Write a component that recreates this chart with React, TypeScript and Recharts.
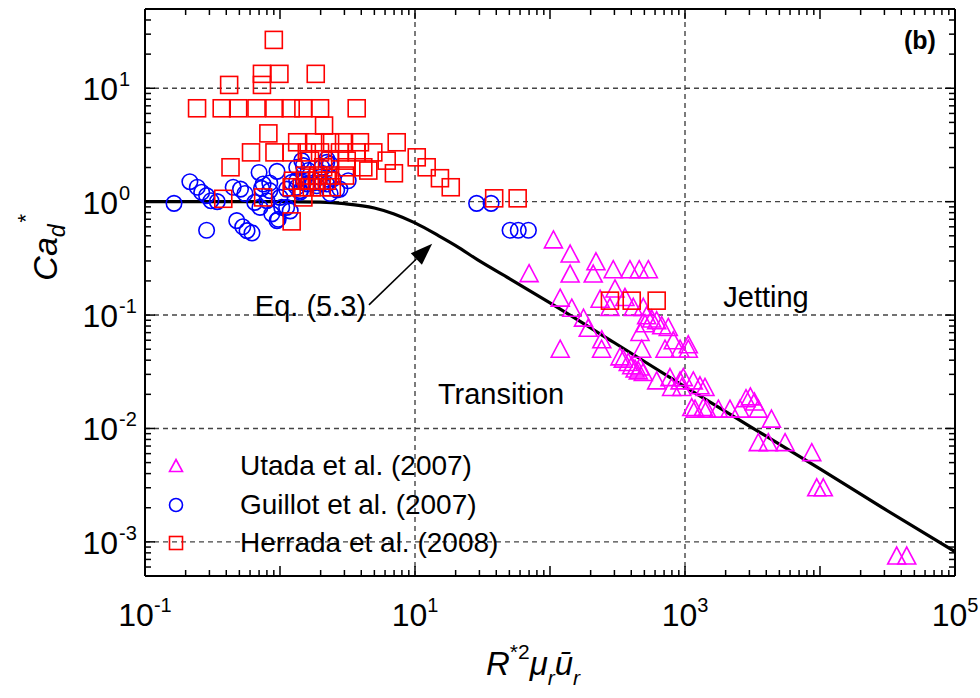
import React from "react";
import { ComposedChart, Scatter, Line, XAxis, YAxis, ReferenceLine, ReferenceDot, Legend } from "recharts";

const FONT = "'Liberation Sans', Arial, Helvetica, sans-serif";

// Utada et al. (2007) - triangles
const utadaX = [106, 141, 70, 141, 219, 209, 294, 391, 458, 535, 119, 145, 119, 177, 192, 242, 241, 303, 235, 278, 359, 414, 491, 520, 617, 672, 752, 464, 478, 711, 819, 919, 1058, 349, 380, 403, 427, 451, 491, 330, 464, 617, 774, 919, 1152, 796, 946, 1406, 972, 1122, 1368, 1186, 1448, 1767, 2154, 2554, 2830, 3050, 3270, 3492, 4370, 3492, 4140, 5510, 8690, 9460, 10580, 37000, 43900, 506, 567, 1058, 1291];
const utadaY = [0.46, 0.345, 0.232, 0.23, 0.295, 0.23, 0.251, 0.251, 0.251, 0.251, 0.141, 0.115, 0.05, 0.094, 0.0764, 0.0605, 0.05, 0.17, 0.138, 0.117, 0.143, 0.117, 0.117, 0.0986, 0.089, 0.0805, 0.0778, 0.0702, 0.05, 0.05, 0.0593, 0.05, 0.05, 0.0409, 0.0382, 0.0357, 0.0334, 0.0322, 0.0312, 0.0428, 0.0348, 0.0263, 0.0281, 0.0263, 0.0263, 0.023, 0.023, 0.023, 0.0281, 0.0153, 0.0153, 0.0148, 0.0148, 0.0148, 0.0148, 0.0148, 0.0183, 0.019, 0.0171, 0.0148, 0.0121, 0.0075, 0.0075, 0.0075, 0.00612, 0.003, 0.003, 0.00075, 0.00075, 0.0838, 0.0922, 0.0547, 0.0238];

// Guillot et al. (2007) - circles
const guillotX = [0.164, 0.215, 0.244, 0.263, 0.286, 0.308, 0.343, 0.286, 0.478, 0.53, 0.57, 0.62, 0.7, 0.51, 0.55, 0.95, 0.73, 0.84, 0.65, 0.71, 0.87, 0.95, 1.0, 1.12, 1.19, 1.33, 1.49, 1.62, 2.22, 2.04, 0.45, 0.8, 0.75, 0.84, 1.03, 0.97, 1.45, 2.22, 2.35, 3.2, 1.33, 1.58, 1.76, 1.98, 2.22, 2.48, 1.41, 2.63, 2.78, 2.35, 1.12, 1.41, 1.22, 1.33, 1.49, 1.87, 2.04, 28.6, 36.6, 50.6, 58.2, 69.2];
const guillotY = [0.966, 1.5, 1.34, 1.21, 1.13, 1.02, 1.0, 0.56, 0.68, 0.6, 0.555, 0.53, 1.81, 1.29, 1.18, 1.85, 1.31, 1.46, 0.986, 0.89, 0.78, 0.68, 1.09, 0.89, 0.83, 2.01, 2.08, 1.88, 2.22, 2.01, 1.34, 1.02, 1.43, 1.25, 0.89, 0.7, 2.3, 2.38, 2.15, 1.53, 1.53, 1.43, 1.46, 1.64, 1.43, 1.59, 1.25, 1.27, 1.29, 1.18, 1.29, 1.21, 1.48, 1.34, 1.48, 1.38, 1.45, 0.966, 0.966, 0.56, 0.56, 0.56];

// Herrada et al. (2008) - squares
const herradaX = [0.9, 0.735, 0.99, 1.84, 0.42, 0.735, 0.243, 0.37, 0.49, 0.67, 0.91, 1.2, 1.49, 1.98, 3.7, 2.12, 0.82, 1.34, 1.82, 2.35, 2.98, 3.91, 7.32, 0.61, 0.91, 1.22, 1.58, 1.98, 2.78, 3.7, 4.91, 0.43, 6.17, 6.98, 10.3, 12.2, 15.3, 18.4, 38.6, 57.6, 1.67, 2.35, 3.12, 2.09, 3.12, 4.14, 4.51, 1.53, 1.92, 2.35, 3.03, 1.25, 1.58, 1.87, 2.22, 1.22, 1.45, 1.72, 2.04, 2.42, 0.75, 1.49, 0.38, 1.22, 278, 403, 617];
const herradaY = [26.7, 13.4, 13.4, 13.4, 10.7, 10.7, 6.66, 6.66, 6.66, 6.66, 6.66, 6.66, 6.66, 6.66, 6.66, 4.69, 4.0, 3.34, 3.34, 3.34, 3.34, 3.34, 3.34, 2.72, 2.72, 2.72, 2.72, 2.72, 2.72, 2.72, 2.72, 2.01, 2.3, 1.78, 2.46, 2.01, 1.61, 1.34, 1.07, 1.07, 2.3, 2.3, 2.3, 2.01, 2.01, 2.01, 1.88, 1.7, 1.7, 1.7, 1.7, 1.53, 1.53, 1.53, 1.53, 1.34, 1.34, 1.34, 1.34, 1.34, 1.09, 1.09, 1.06, 0.67, 0.134, 0.134, 0.134];

// Eq. (5.3) curve
const curveX = [0.1, 0.3, 1, 2, 3, 5, 7, 10, 15, 20, 30, 50, 100, 300, 1000, 3000, 10000, 30000, 100000];
const curveY = [1.0, 1.0, 1.0, 0.99, 0.96, 0.88, 0.78, 0.65, 0.5, 0.41, 0.3, 0.21, 0.128, 0.057, 0.0233, 0.0105, 0.0044, 0.00195, 0.00082];

const xMajor = [0.1, 1, 10, 100, 1000, 10000, 100000];
const xLabelExp = [-1, 1, 3, 5];
const xGrid = [10, 1000];
const yMajor = [0.001, 0.01, 0.1, 1, 10];
const yLabelExp = [-3, -2, -1, 0, 1];
const yDomain = [0.0005, 50];
const xDomain = [0.1, 100000];

const legendNames = ["Utada et al. (2007)", "Guillot et al. (2007)", "Herrada et al. (2008)"];

const minorTicks = (majors: number[], lo: number, hi: number) => {
  const out: number[] = [];
  const decades = [majors[0] / 10, ...majors];
  decades.forEach((d) => {
    for (let m = 1; m <= 9; m++) {
      const v = Number((m * d).toPrecision(3));
      if (v >= lo * 0.999 && v <= hi * 1.001) out.push(v);
    }
  });
  return Array.from(new Set(out)).sort((a, b) => a - b);
};

const xTicks = minorTicks(xMajor, xDomain[0], xDomain[1]);
const yTicks = minorTicks(yMajor, yDomain[0], yDomain[1]);

const zip = (xs: number[], ys: number[]) => xs.map((x, i) => ({ x, y: ys[i] }));
const utada = zip(utadaX, utadaY);
const guillot = zip(guillotX, guillotY);
const herrada = zip(herradaX, herradaY);
const curve = zip(curveX, curveY);

const expOf = (v: number) => Math.round(Math.log10(v));
const isMajor = (v: number) => Math.abs(Math.log10(v) - expOf(v)) < 1e-6;

const MAGENTA = "#ff00ff";
const BLUE = "#0000ff";
const RED = "#ff0000";
const GRID = "#444444";
const TICK_COLOR = "#000000";

const Triangle = ({ cx, cy, s = 18, color = MAGENTA }: any) => (
  <polygon
    points={`${cx},${cy - s / 2} ${cx + s / 2},${cy + s / 2 - 1} ${cx - s / 2},${cy + s / 2 - 1}`}
    fill="none"
    stroke={color}
    strokeWidth={1.6}
  />
);
const Circle = ({ cx, cy, s = 15.5, color = BLUE }: any) => (
  <circle cx={cx} cy={cy} r={s / 2} fill="none" stroke={color} strokeWidth={1.6} />
);
const Square = ({ cx, cy, s = 17, color = RED }: any) => (
  <rect x={cx - s / 2} y={cy - s / 2} width={s} height={s} fill="none" stroke={color} strokeWidth={1.6} />
);

const BottomLabel = ({ x, y, payload }: any) => {
  const v = payload.value;
  const e = expOf(v);
  if (!isMajor(v) || !xLabelExp.includes(e)) return <g />;
  return (
    <text x={x} y={y + 50} textAnchor="middle" fontSize={32} fontFamily={FONT} fill="#000">
      10
      <tspan dy={-14} fontSize={20}>{e}</tspan>
    </text>
  );
};

const LeftLabel = ({ x, y, payload }: any) => {
  const v = payload.value;
  const e = expOf(v);
  if (!isMajor(v) || !yLabelExp.includes(e)) return <g />;
  return (
    <g fontFamily={FONT} fill="#000">
      <text x={x - 27} y={y + 12} textAnchor="end" fontSize={32}>10</text>
      <text x={x - 26} y={y - 2} textAnchor="start" fontSize={20}>{e}</text>
    </g>
  );
};

// inward tick marks on both ends of each reference line
const xMarks = (len: number) => (props: any) => {
  const { x1, y1, y2 } = props;
  const top = Math.min(y1, y2);
  const bot = Math.max(y1, y2);
  return (
    <g>
      <line x1={x1} x2={x1} y1={top} y2={top + len} stroke={TICK_COLOR} strokeWidth={1.5} />
      <line x1={x1} x2={x1} y1={bot} y2={bot - len} stroke={TICK_COLOR} strokeWidth={1.5} />
    </g>
  );
};

const yMarks = (len: number) => (props: any) => {
  const { x1, x2, y1 } = props;
  const left = Math.min(x1, x2);
  const right = Math.max(x1, x2);
  return (
    <g>
      <line x1={left} x2={left + len} y1={y1} y2={y1} stroke={TICK_COLOR} strokeWidth={1.5} />
      <line x1={right} x2={right - len} y1={y1} y2={y1} stroke={TICK_COLOR} strokeWidth={1.5} />
    </g>
  );
};

const YTitle = ({ viewBox }: any) => {
  const cx = viewBox.x + 57;
  const cy = viewBox.y + viewBox.height / 2 - 40;
  return (
    <g transform={`translate(${cx},${cy}) rotate(-90)`} fontFamily={FONT} fill="#000">
      <text x={0} y={0} textAnchor="middle" fontSize={34} fontStyle="italic">
        Ca<tspan fontSize={23} dy={8}>d</tspan>
      </text>
      <text x={30} y={-24} fontSize={22}>*</text>
    </g>
  );
};

const XTitle = ({ viewBox }: any) => {
  const cx = viewBox.x + viewBox.width / 2 - 17;
  const cy = viewBox.y + 99;
  return (
    <text x={cx} y={cy} textAnchor="middle" fontFamily={FONT} fontSize={33} fontStyle="italic" fill="#000">
      R<tspan fontSize={21} dy={-16} fontStyle="normal">*2</tspan>
      <tspan dy={16}>μ</tspan>
      <tspan fontSize={21} dy={10}>r</tspan>
      <tspan dy={-10}>ū</tspan>
      <tspan fontSize={21} dy={10}>r</tspan>
    </text>
  );
};

const Arrow = ({ x1, y1, x2, y2 }: any) => {
  const dx = x2 - x1;
  const dy = y2 - y1;
  const len = Math.sqrt(dx * dx + dy * dy);
  const ux = dx / len;
  const uy = dy / len;
  const hl = 22;
  const hw = 8;
  const bx = x2 - ux * hl;
  const by = y2 - uy * hl;
  return (
    <g>
      <line x1={x1} y1={y1} x2={bx} y2={by} stroke="#000" strokeWidth={1.6} />
      <polygon
        points={`${x2},${y2} ${bx - uy * hw},${by + ux * hw} ${bx + uy * hw},${by - ux * hw}`}
        fill="#000"
      />
    </g>
  );
};

const note = (text: string, anchor: string, size = 29, weight = "normal") => ({ cx, cy }: any) => (
  <text x={cx} y={cy} textAnchor={anchor} dominantBaseline="central" fontFamily={FONT} fontSize={size} fontWeight={weight} fill="#000">
    {text}
  </text>
);

const LegendContent = () => {
  const shapes = [Triangle, Circle, Square];
  return (
    <div style={{ fontFamily: FONT, fontSize: 28, color: "#000" }}>
      {legendNames.map((name, i) => {
        const Shape = shapes[i];
        return (
          <div key={name} style={{ display: "flex", alignItems: "center", height: 38.5 }}>
            <svg width={24} height={24} style={{ display: "block" }}>
              <Shape cx={12} cy={12} s={13} />
            </svg>
            <span style={{ marginLeft: 52, lineHeight: "38.5px", whiteSpace: "nowrap" }}>{name}</span>
          </div>
        );
      })}
    </div>
  );
};

const axisLineStyle = { stroke: "#000", strokeWidth: 2 };

export default function App() {
  return (
    <div style={{ position: "fixed", left: 0, top: 0, width: 980, height: 698, background: "#fff" }}>
      <ComposedChart width={980} height={698} margin={{ top: 9, right: 25, bottom: 0, left: 0 }}>
        <XAxis
          type="number"
          dataKey="x"
          scale="log"
          domain={xDomain}
          allowDataOverflow
          ticks={xMajor}
          interval={0}
          tickSize={0}
          tickMargin={0}
          tickLine={false}
          tick={<BottomLabel />}
          axisLine={axisLineStyle}
          height={122}
          label={{ content: <XTitle /> }}
        />
        <YAxis
          type="number"
          dataKey="y"
          scale="log"
          domain={yDomain}
          allowDataOverflow
          ticks={yMajor}
          interval={0}
          tickSize={0}
          tickMargin={0}
          tickLine={false}
          tick={<LeftLabel />}
          axisLine={axisLineStyle}
          width={145}
          label={{ content: <YTitle /> }}
        />
        {yMajor.map((v) => (
          <ReferenceLine key={`gy${v}`} y={v} stroke={GRID} strokeWidth={1.4} strokeDasharray="5 4" />
        ))}
        {xGrid.map((v) => (
          <ReferenceLine key={`gx${v}`} x={v} stroke={GRID} strokeWidth={1.4} strokeDasharray="5 4" />
        ))}
        {xTicks.map((v) => (
          <ReferenceLine key={`tx${v}`} x={v} stroke="#000" ifOverflow="visible" shape={xMarks(isMajor(v) ? 10 : 6)} />
        ))}
        {yTicks.map((v) => (
          <ReferenceLine key={`ty${v}`} y={v} stroke="#000" ifOverflow="visible" shape={yMarks(isMajor(v) ? 10 : 6)} />
        ))}
        <ReferenceLine y={yDomain[1]} stroke="#000" strokeWidth={2} ifOverflow="visible" />
        <ReferenceLine x={xDomain[1]} stroke="#000" strokeWidth={2} ifOverflow="visible" />
        <Line
          data={curve}
          dataKey="y"
          type="monotone"
          stroke="#000"
          strokeWidth={3.2}
          dot={false}
          legendType="none"
          isAnimationActive={false}
        />
        <Scatter name={legendNames[0]} data={utada} dataKey="y" shape={<Triangle />} isAnimationActive={false} />
        <Scatter name={legendNames[1]} data={guillot} dataKey="y" shape={<Circle />} isAnimationActive={false} />
        <Scatter name={legendNames[2]} data={herrada} dataKey="y" shape={<Square />} isAnimationActive={false} />
        <ReferenceLine
          segment={[
            { x: 4.56, y: 0.123 },
            { x: 13.4, y: 0.426 },
          ]}
          shape={<Arrow />}
        />
        <ReferenceDot x={4.34} y={0.121} r={0} shape={note("Eq. (5.3)", "end")} />
        <ReferenceDot x={43.4} y={0.0202} r={0} shape={note("Transition", "middle")} />
        <ReferenceDot x={3980} y={0.145} r={0} shape={note("Jetting", "middle")} />
        <ReferenceDot x={55000} y={26.4} r={0} shape={note("(b)", "middle", 25, "bold")} />
        <Legend
          layout="vertical"
          align="center"
          verticalAlign="middle"
          content={<LegendContent />}
          wrapperStyle={{ left: 164, top: 447, width: "auto" }}
        />
      </ComposedChart>
    </div>
  );
}
